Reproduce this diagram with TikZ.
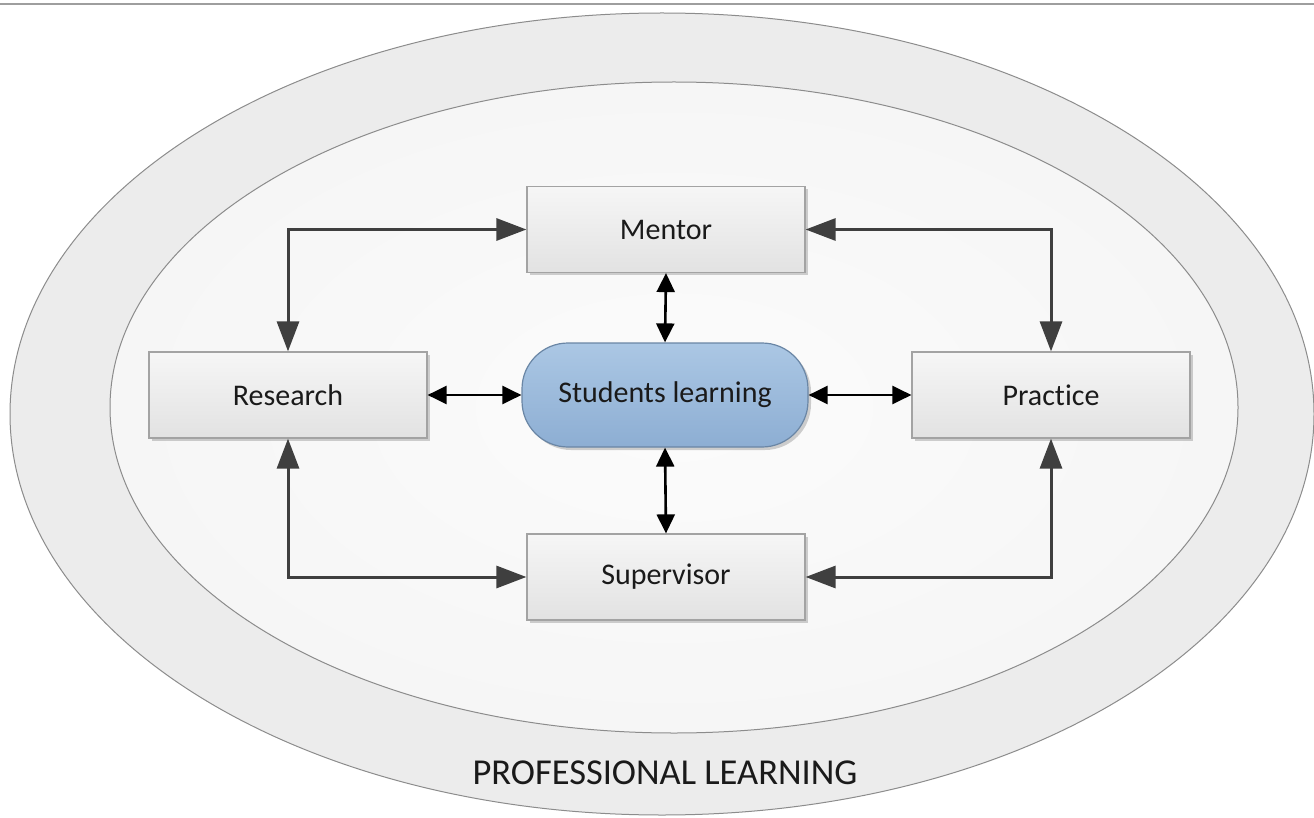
\documentclass[tikz,border=0pt]{standalone}
\usepackage{fontspec}
\setmainfont{Carlito}[Ligatures=NoCommon]
\usetikzlibrary{arrows.meta,shadows,shapes.geometric}
\definecolor{boxtop}{HTML}{F6F6F6}
\definecolor{boxbot}{HTML}{E2E2E2}
\definecolor{boxline}{HTML}{A3A3A3}
\definecolor{bluetop}{HTML}{ABC7E4}
\definecolor{bluebot}{HTML}{8DAED3}
\definecolor{blueline}{HTML}{6A86A5}
\definecolor{arrowdark}{HTML}{3F3F3F}
\definecolor{ringfill}{HTML}{ECECEC}
\definecolor{innerfill}{HTML}{F6F6F6}
\definecolor{ringline}{HTML}{8C8C8C}
\definecolor{txt}{HTML}{1A1A1A}
\tikzset{
  boxnode/.style={rectangle, draw=boxline, line width=1.2pt, top color=boxtop, bottom color=boxbot,
    minimum width=278pt, minimum height=86pt, inner sep=0pt, text=txt,
    font=\fontsize{30}{36}\selectfont,
    drop shadow={shadow xshift=3pt, shadow yshift=-3pt, opacity=0.18, fill=black}},
  centernode/.style={rectangle, rounded corners=46pt, draw=blueline, line width=1.2pt,
    top color=bluetop, bottom color=bluebot,
    minimum width=286pt, minimum height=104pt, inner sep=0pt, text=txt,
    font=\fontsize{30}{36}\selectfont,
    drop shadow={shadow xshift=3pt, shadow yshift=-3pt, opacity=0.18, fill=black}},
  outerlink/.style={draw=arrowdark, line width=3pt,
    {Triangle[length=30pt,width=22pt]}-{Triangle[length=30pt,width=22pt]}},
  innerlink/.style={draw=black, line width=2.6pt,
    {Triangle[length=19pt,width=18pt]}-{Triangle[length=19pt,width=18pt]}},
  ring/.style={draw=ringline, line width=1pt},
}
\begin{document}
\begin{tikzpicture}[x=1pt,y=-1pt]
\useasboundingbox (0,0) rectangle (1314,818);
\fill[white] (0,0) rectangle (1314,818);
\draw[color=black!38, line width=2pt] (0,4) -- (1314,4);
% outer ring
\path[ring, fill=ringfill] (662,414) ellipse [x radius=652, y radius=401];
% inner area
\path[inner color=white!60!innerfill, outer color=innerfill] (674,407.5) ellipse [x radius=564, y radius=325.5];
\path[ring] (674,407.5) ellipse [x radius=564, y radius=325.5];
\node[anchor=center, text=txt, font=\fontsize{36.5}{44}\selectfont] (pl) at (665,773) {PROFESSIONAL LEARNING};

\node[boxnode] (mentor) at (666,229.5) {Mentor};
\node[boxnode] (research) at (288,395) {Research};
\node[boxnode] (practice) at (1051,395) {Practice};
\node[boxnode] (supervisor) at (666,577) {Supervisor};
\node[centernode] (students) at (665,395) {Students learning};

\draw[outerlink] (research.north) |- (mentor.west);
\draw[outerlink] (practice.north) |- (mentor.east);
\draw[outerlink] (research.south) |- (supervisor.west);
\draw[outerlink] (practice.south) |- (supervisor.east);

\draw[innerlink] (mentor.south) -- (students.north);
\draw[innerlink] (students.south) -- (supervisor.north);
\draw[innerlink] (research.east) -- (students.west);
\draw[innerlink] (students.east) -- (practice.west);
\end{tikzpicture}
\end{document}
